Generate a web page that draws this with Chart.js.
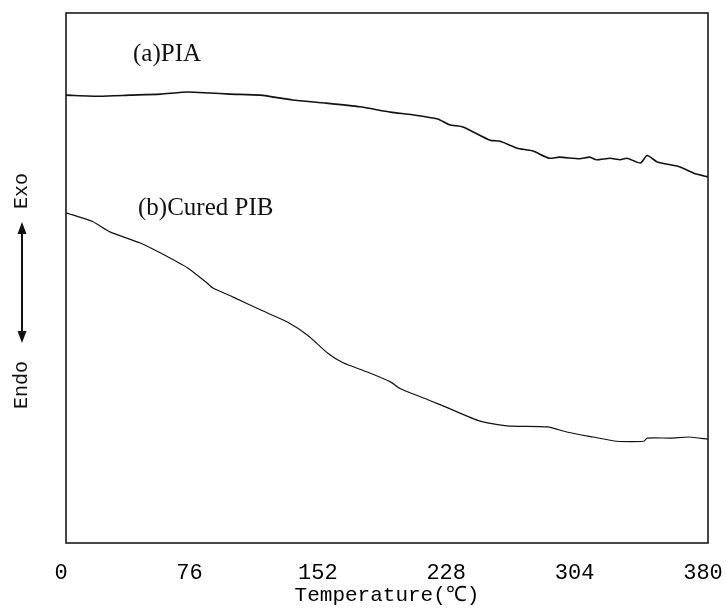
<!DOCTYPE html>
<html lang="en">
<head>
    <meta charset="UTF-8">
    <title>DSC curves - PIA and cured PIB</title>
    <style>
        html, body { margin: 0; padding: 0; background: #fff; }
        .chart-box { width: 726px; height: 608px; }
    </style>
</head>
<body>

    <div class="chart-box">
        <canvas id="myChart" width="726" height="608" role="img" aria-label="DSC curves of PIA and cured PIB"></canvas>
    </div>

    <script src="https://cdn.jsdelivr.net/npm/chart.js@4/dist/chart.umd.min.js"></script>

    <script>
        // temperature (C) and heat flow (arbitrary units)
        var tempA = [0, 20, 38, 56, 72, 85, 97, 115, 134, 154, 174, 192, 205, 220, 227, 235, 251, 257, 267, 276, 286, 292, 304, 310, 314, 322, 328, 332, 340, 344, 350, 363, 373, 380];
        var flowA = [84.5, 84.3, 84.5, 84.7, 85.1, 84.9, 84.7, 84.5, 83.6, 83.0, 82.3, 81.3, 80.8, 80.0, 78.9, 78.5, 76.0, 75.8, 74.5, 74.0, 72.6, 72.8, 72.5, 72.8, 72.3, 72.6, 72.3, 72.6, 71.7, 73.1, 71.9, 71.0, 69.6, 69.1];

        var tempB = [0, 16, 26, 44, 56, 72, 83, 87, 99, 115, 131, 143, 155, 164, 178, 192, 198, 216, 226, 245, 261, 285, 297, 312, 326, 342, 344, 358, 369, 380];
        var flowB = [62.3, 60.6, 58.7, 56.6, 54.7, 51.9, 49.2, 48.1, 46.4, 44.0, 41.7, 39.2, 35.8, 34.0, 32.3, 30.4, 29.1, 26.8, 25.5, 23.0, 22.1, 21.9, 20.9, 20.0, 19.2, 19.2, 19.8, 19.8, 20.0, 19.6];

        var xTicks = [0, 76, 152, 228, 304, 380];

        function toPoints(xs, ys) {
            return xs.map(function (x, i) { return { x: x, y: ys[i] }; });
        }

        // frame, curve captions and the Endo/Exo marker on the left
        var decorations = {
            id: 'decorations',
            afterDraw: function (chart) {
                var ctx = chart.ctx;
                var a = chart.chartArea;
                ctx.save();
                ctx.strokeStyle = '#1a1a1a';
                ctx.lineWidth = 1.6;
                ctx.strokeRect(a.left, a.top, a.right - a.left, a.bottom - a.top);

                ctx.fillStyle = '#111';
                ctx.font = '25px "Liberation Serif", serif';
                ctx.textBaseline = 'alphabetic';
                ctx.fillText('(a)PIA', 133, 61);
                ctx.fillText('(b)Cured PIB', 138, 215);

                // rotated side label
                ctx.translate(22, 0);
                ctx.rotate(-Math.PI / 2);
                ctx.font = '20px "Liberation Mono", monospace';
                ctx.textAlign = 'center';
                ctx.textBaseline = 'middle';
                ctx.fillText('Exo', -191, 0);
                ctx.fillText('Endo', -385, 0);
                ctx.restore();

                ctx.save();
                ctx.strokeStyle = '#111';
                ctx.fillStyle = '#111';
                ctx.lineWidth = 2;
                ctx.beginPath();
                ctx.moveTo(22, 230);
                ctx.lineTo(22, 335);
                ctx.stroke();
                ctx.beginPath();
                ctx.moveTo(22, 222); ctx.lineTo(17.5, 234); ctx.lineTo(26.5, 234); ctx.closePath();
                ctx.fill();
                ctx.beginPath();
                ctx.moveTo(22, 343); ctx.lineTo(17.5, 331); ctx.lineTo(26.5, 331); ctx.closePath();
                ctx.fill();
                ctx.restore();
            }
        };

        function createChart() {
            var ctx = document.getElementById('myChart').getContext('2d');
            new Chart(ctx, {
                type: 'line',
                data: {
                    datasets: [
                        {
                            label: '(a)PIA',
                            data: toPoints(tempA, flowA),
                            borderColor: '#111',
                            borderWidth: 1.6,
                            pointRadius: 0,
                            tension: 0.2
                        },
                        {
                            label: '(b)Cured PIB',
                            data: toPoints(tempB, flowB),
                            borderColor: '#111',
                            borderWidth: 1.2,
                            pointRadius: 0,
                            tension: 0.2
                        }
                    ]
                },
                options: {
                    responsive: false,
                    animation: false,
                    layout: { padding: { left: 66, right: 18, top: 13, bottom: 0 } },
                    plugins: {
                        legend: { display: false },
                        tooltip: { enabled: false }
                    },
                    scales: {
                        x: {
                            type: 'linear',
                            min: 0,
                            max: 380,
                            afterBuildTicks: function (axis) {
                                axis.ticks = xTicks.map(function (v) { return { value: v }; });
                            },
                            afterFit: function (axis) {
                                axis.height = 65;
                                axis.paddingLeft = 0;
                                axis.paddingRight = 0;
                            },
                            grid: { display: false, drawTicks: false },
                            border: { display: false },
                            ticks: {
                                padding: 17,
                                labelOffset: -5,
                                color: '#000',
                                maxRotation: 0,
                                autoSkip: false,
                                font: { family: '"Liberation Mono", monospace', size: 22 }
                            },
                            title: {
                                display: true,
                                text: 'Temperature(℃)',
                                color: '#000',
                                padding: { top: 0, bottom: 0 },
                                font: { family: '"Liberation Mono", monospace', size: 21 }
                            }
                        },
                        y: {
                            display: false,
                            min: 0,
                            max: 100
                        }
                    }
                },
                plugins: [decorations]
            });
        }

        createChart();
    </script>

</body>
</html>
